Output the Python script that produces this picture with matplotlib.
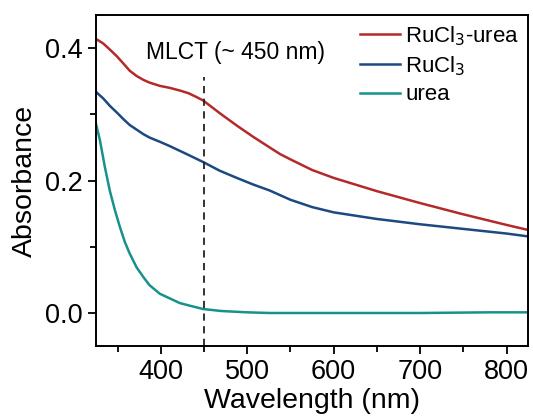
import numpy as np
import matplotlib.pyplot as plt
from matplotlib.ticker import MultipleLocator

plt.rcParams['font.family'] = ['Liberation Sans', 'DejaVu Sans']

# spectra (wavelength nm, absorbance)
wl_ru_urea = [325, 333.5, 341, 349, 356.6, 364, 372, 380, 387, 399, 410.5, 422, 432, 440, 449,
              458, 468, 488, 507, 526, 538, 550, 575, 600, 625, 650, 700, 750, 800, 823]
ab_ru_urea = [0.414, 0.407, 0.398, 0.388, 0.377, 0.366, 0.358, 0.352, 0.348, 0.343, 0.340, 0.336, 0.332, 0.327, 0.321,
              0.312, 0.302, 0.283, 0.266, 0.250, 0.240, 0.232, 0.216, 0.204, 0.194, 0.184, 0.166, 0.149, 0.133, 0.126]

wl_ru = [325, 333.5, 341, 349, 356.6, 364, 372, 380, 387, 400, 410.5, 430, 449,
         468, 488, 507, 526, 538, 550, 575, 600, 650, 700, 750, 800, 823]
ab_ru = [0.334, 0.324, 0.313, 0.303, 0.293, 0.284, 0.277, 0.270, 0.265, 0.258, 0.252, 0.240, 0.228,
         0.215, 0.204, 0.194, 0.185, 0.178, 0.171, 0.160, 0.152, 0.142, 0.134, 0.127, 0.120, 0.116]

wl_urea = [325, 329.6, 335.4, 341, 347, 352.7, 358.5, 364, 372, 380, 387, 399, 410.5, 422,
           433.7, 449, 470, 500, 526, 600, 700, 780, 823]
ab_urea = [0.286, 0.261, 0.220, 0.185, 0.155, 0.130, 0.107, 0.090, 0.069, 0.054, 0.042, 0.029, 0.022, 0.015,
           0.011, 0.006, 0.003, 0.001, 0.0, 0.0, 0.0, 0.001, 0.001]

mlct = 450

fig = plt.figure(figsize=(5.33, 4.18), dpi=100)
ax = fig.add_axes([0.180, 0.172, 0.811, 0.792])

ax.plot(wl_ru_urea, ab_ru_urea, color='#B42A2A', lw=1.8, label='RuCl$_3$-urea')
ax.plot(wl_ru, ab_ru, color='#1C4A80', lw=1.8, label='RuCl$_3$')
ax.plot(wl_urea, ab_urea, color='#17918C', lw=1.8, label='urea')
ax.plot([mlct, mlct], [-0.05, 0.356], color='#222222', lw=1.3, ls=(0, (4, 3)))
ax.text(mlct + 37, 0.393, 'MLCT (~ 450 nm)', fontsize=16.5, ha='center', va='center')

ax.set_xlim(325, 825)
ax.set_ylim(-0.05, 0.45)
ax.xaxis.set_major_locator(MultipleLocator(100))
ax.xaxis.set_minor_locator(MultipleLocator(50))
ax.yaxis.set_major_locator(MultipleLocator(0.2))
ax.yaxis.set_minor_locator(MultipleLocator(0.1))
ax.tick_params(which='both', direction='out', width=1.3, labelsize=19.5)
ax.tick_params(which='major', length=6)
ax.tick_params(which='minor', length=4)
for s in ax.spines.values():
    s.set_linewidth(1.4)

ax.set_xlabel('Wavelength (nm)', fontsize=20.5, labelpad=2)
ax.set_ylabel('Absorbance', fontsize=20.5, labelpad=5)
ax.legend(loc='upper right', frameon=False, fontsize=16, handlelength=1.8,
          handletextpad=0.25, labelspacing=0.3, borderaxespad=0.0)

fig.savefig('out.png', dpi=100)
